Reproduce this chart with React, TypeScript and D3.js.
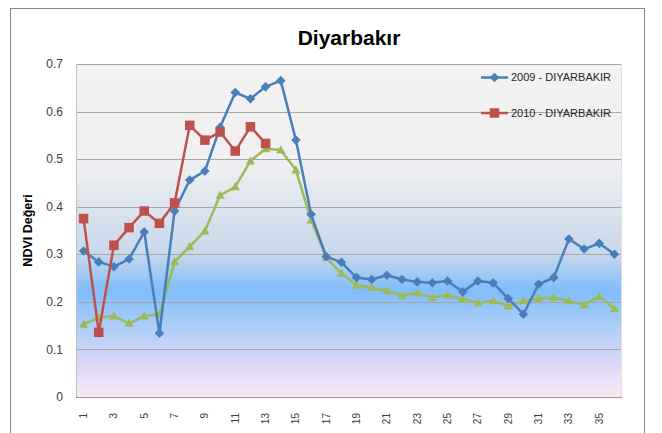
import React from "react";
import * as d3 from "d3";

const categories: number[] = Array.from({ length: 36 }, (_, i) => i + 1);
const yTicks = [0, 0.1, 0.2, 0.3, 0.4, 0.5, 0.6, 0.7];

const series2009 = [0.307, 0.284, 0.274, 0.29, 0.347, 0.134, 0.391, 0.456, 0.475, 0.567, 0.64, 0.627, 0.652, 0.665, 0.54, 0.384, 0.295, 0.283, 0.251, 0.247, 0.256, 0.247, 0.242, 0.24, 0.244, 0.221, 0.244, 0.24, 0.207, 0.174, 0.237, 0.251, 0.332, 0.311, 0.323, 0.3];
const series2010 = [0.375, 0.136, 0.319, 0.356, 0.391, 0.365, 0.408, 0.571, 0.54, 0.557, 0.517, 0.568, 0.533];
const seriesOther = [0.153, 0.167, 0.17, 0.155, 0.17, 0.174, 0.284, 0.316, 0.349, 0.424, 0.442, 0.496, 0.522, 0.519, 0.477, 0.372, 0.293, 0.26, 0.235, 0.23, 0.223, 0.213, 0.219, 0.209, 0.214, 0.206, 0.198, 0.202, 0.191, 0.202, 0.207, 0.209, 0.202, 0.194, 0.211, 0.186];

const legendLabels = ["2009 - DIYARBAKIR", "2010 - DIYARBAKIR"];
const title = "Diyarbakır";
const yTitle = "NDVI Değeri";

const W = 662, H = 433;
const plot = { left: 76, right: 622, top: 64, bottom: 397 };
const FONT = "'Liberation Sans', Arial, sans-serif";

const BLUE = "#4A7EBB";
const RED = "#C0504D";
const GREEN = "#9BBB59";

type Shape = "diamond" | "square" | "triangle";

function marker(shape: Shape, x: number, y: number, color: string, key: string) {
  if (shape === "diamond") {
    const r = 4.8;
    return <path key={key} d={`M${x},${y - r}L${x + r},${y}L${x},${y + r}L${x - r},${y}Z`} fill={color} />;
  }
  if (shape === "square") {
    const s = 9.5;
    return <rect key={key} x={x - s / 2} y={y - s / 2} width={s} height={s} fill={color} />;
  }
  const r = 4.6;
  return <path key={key} d={`M${x},${y - r}L${x + r},${y + r * 0.75}L${x - r},${y + r * 0.75}Z`} fill={color} />;
}

export default function App() {
  const x = d3.scaleBand<number>().domain(categories).range([plot.left, plot.right]);
  const xc = (c: number) => (x(c) as number) + x.bandwidth() / 2;
  const y = d3.scaleLinear().domain([0, 0.7]).range([plot.bottom, plot.top]);

  const line = d3
    .line<number>()
    .x((_, i) => xc(categories[i]))
    .y((d) => y(d));

  const all: { data: number[]; color: string; shape: Shape; name: string }[] = [
    { data: seriesOther, color: GREEN, shape: "triangle", name: "g" },
    { data: series2009, color: BLUE, shape: "diamond", name: "b" },
    { data: series2010, color: RED, shape: "square", name: "r" },
  ];

  return (
    <svg width={W} height={H} style={{ position: "absolute", left: 0, top: 0 }} xmlns="http://www.w3.org/2000/svg">
      <defs>
        <linearGradient id="bg" x1="0" y1="0" x2="0" y2="1">
          <stop offset="0" stopColor="#f2f2f2" />
          <stop offset="0.29" stopColor="#f0f0f2" />
          <stop offset="0.57" stopColor="#c8d8ea" />
          <stop offset="0.68" stopColor="#80bdfb" />
          <stop offset="0.8" stopColor="#b3cff8" />
          <stop offset="0.9" stopColor="#dad8f5" />
          <stop offset="1" stopColor="#fbe8f6" />
        </linearGradient>
      </defs>
      <rect x={0} y={0} width={W} height={H} fill="#ffffff" />
      <rect x={10.5} y={8.5} width={634} height={440} fill="#ffffff" stroke="#868686" strokeWidth={1} />
      <text x={(plot.left + plot.right) / 2} y={45} textAnchor="middle" fontFamily={FONT} fontWeight="bold" fontSize={21} fill="#000">
        {title}
      </text>
      <rect x={plot.left} y={plot.top} width={plot.right - plot.left} height={plot.bottom - plot.top} fill="url(#bg)" />
      {yTicks.map((t) => (
        <line key={"g" + t} x1={plot.left} x2={plot.right} y1={Math.round(y(t)) + 0.5} y2={Math.round(y(t)) + 0.5} stroke={t === 0 ? "#9a9a9a" : "#a6a6a6"} strokeWidth={1} />
      ))}
      <line x1={plot.left + 0.5} x2={plot.left + 0.5} y1={plot.top} y2={plot.bottom} stroke="#bdbdbd" />
      <line x1={plot.right - 0.5} x2={plot.right - 0.5} y1={plot.top} y2={plot.bottom} stroke="#e0e0e0" />
      {yTicks.map((t) => (
        <text key={"yl" + t} x={63} y={y(t)} dy="0.35em" textAnchor="end" fontFamily={FONT} fontSize={12} fill="#404040">
          {String(t)}
        </text>
      ))}
      {categories.filter((c) => c % 2 === 1).map((c) => (
        <text key={"xl" + c} transform={`translate(${xc(c)},413) rotate(-90)`} dy="0.35em" textAnchor="end" fontFamily={FONT} fontSize={10} fill="#404040">
          {String(c)}
        </text>
      ))}
      <text transform={`translate(28,${(plot.top + plot.bottom) / 2}) rotate(-90)`} dy="0.35em" textAnchor="middle" fontFamily={FONT} fontWeight="bold" fontSize={12.5} fill="#000">
        {yTitle}
      </text>
      {all.map((s) => (
        <g key={s.name}>
          <path d={line(s.data) || ""} fill="none" stroke={s.color} strokeWidth={2.5} strokeLinejoin="round" />
          {s.data.map((v, i) => marker(s.shape, xc(categories[i]), y(v), s.color, s.name + i))}
        </g>
      ))}
      {[
        { label: legendLabels[0], color: BLUE, shape: "diamond" as Shape, yy: 77.5 },
        { label: legendLabels[1], color: RED, shape: "square" as Shape, yy: 113 },
      ].map((l, i) => (
        <g key={"lg" + i}>
          <line x1={481} x2={508} y1={l.yy} y2={l.yy} stroke={l.color} strokeWidth={2.5} />
          {marker(l.shape, 494.5, l.yy, l.color, "lm" + i)}
          <text x={511} y={l.yy} dy="0.35em" fontFamily={FONT} fontSize={11} fill="#262626">
            {l.label}
          </text>
        </g>
      ))}
    </svg>
  );
}
